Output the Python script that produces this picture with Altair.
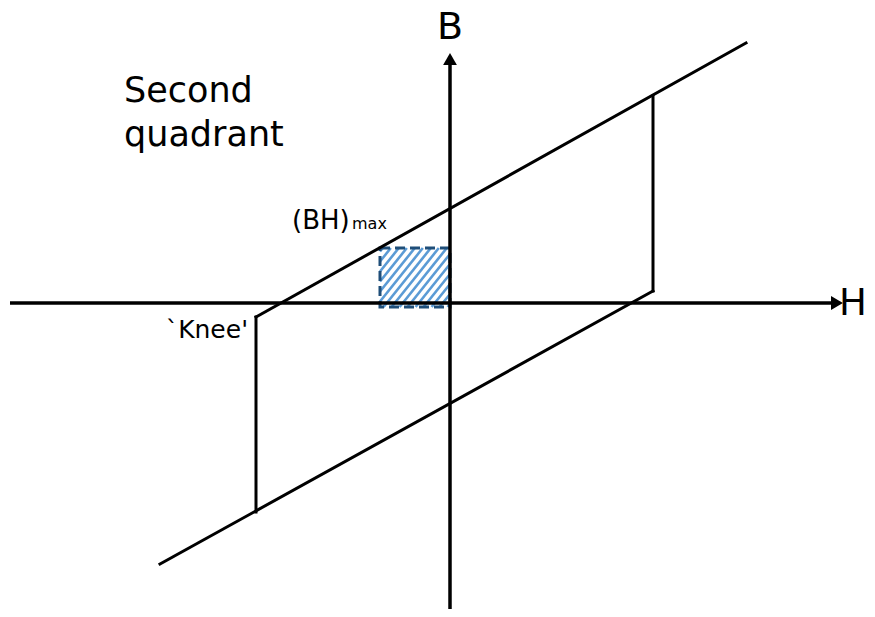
import altair as alt
import pandas as pd
import numpy as np

# Diagram coordinates (H, B) with origin at the intersection of axes
# segments: upper line, right vertical, lower line, left vertical
seg_h1 = [-194, 203, -290, -194]
seg_b1 = [-14, 207, -261, -14]
seg_h2 = [296, 203, 203, -194]
seg_b2 = [260, 12, 12, -209]

# axes
h_axis = [-440, 385]
b_axis = [-310, 245]
h_tip = 392
b_tip = 250

# (BH)max rectangle
rect_h = [-70, 0]
rect_b = [-4, 55]

# labels (alphabetic baseline)
label_x = [0, 403, -326, -326, -158, -202, -98]
label_y = [264, -12, 201, 157, 74, -35, 74]
label_t = ["B", "H", "Second", "quadrant", "(BH)", "`Knee'", "max"]
label_s = [38, 37, 35, 35, 26, 25, 16]
label_al = ["center", "center", "left", "left", "left", "right", "left"]

XD = [-442, 417]
YD = [-306, 295]
W, H = 859, 601

xs = alt.Scale(domain=XD, range=[0, W], nice=False, zero=False)
ys = alt.Scale(domain=YD, range=[H, 0], nice=False, zero=False)

def X(f="x", **k):
    return alt.X(f, type="quantitative", scale=xs, axis=None, **k)

def Y(f="y", **k):
    return alt.Y(f, type="quantitative", scale=ys, axis=None, **k)

loop_df = pd.DataFrame({"x": seg_h1, "y": seg_b1, "x2": seg_h2, "y2": seg_b2})
loop = alt.Chart(loop_df).mark_rule(color="black", strokeWidth=3, strokeCap="square").encode(
    x=X(), y=Y(), x2="x2", y2="y2")

axes_df = pd.DataFrame({"x": [h_axis[0], 0], "y": [0, b_axis[0]],
                        "x2": [h_axis[1], 0], "y2": [0, b_axis[1]]})
axes = alt.Chart(axes_df).mark_rule(color="black", strokeWidth=3.5).encode(
    x=X(), y=Y(), x2="x2", y2="y2")

heads = pd.DataFrame({"x": [h_tip - 7, 0], "y": [0, b_tip - 8], "a": [90, 0]})
arrows = alt.Chart(heads).mark_point(shape="triangle", filled=True, color="black",
                                     size=190, opacity=1).encode(
    x=X(), y=Y(), angle=alt.Angle("a:Q", scale=None))

# hatch lines within rectangle (slope up-right)
hx0, hx1 = rect_h
hy0, hy1 = rect_b
slope = 1.25
step = 10.0
segs = []
c = hy0 - slope * hx1 + 3
while c < hy1 - slope * hx0:
    pts = []
    for xv in (hx0, hx1):
        yv = slope * xv + c
        if hy0 <= yv <= hy1:
            pts.append((xv, yv))
    for yv in (hy0, hy1):
        xv = (yv - c) / slope
        if hx0 <= xv <= hx1:
            pts.append((xv, yv))
    pts = sorted(set(pts))
    if len(pts) >= 2:
        segs.append((pts[0][0], pts[0][1], pts[-1][0], pts[-1][1]))
    c += step
hatch_df = pd.DataFrame(segs, columns=["x", "y", "x2", "y2"])
hatch = alt.Chart(hatch_df).mark_rule(color="#5b9bd5", strokeWidth=2.6).encode(
    x=X(), y=Y(), x2="x2", y2="y2")

rect_df = pd.DataFrame({"x": [rect_h[0]], "x2": [rect_h[1]], "y": [rect_b[0]], "y2": [rect_b[1]]})
rect = alt.Chart(rect_df).mark_rect(fill=None, stroke="#1f4e79", strokeWidth=3,
                                    strokeDash=[10, 5]).encode(
    x=X(), x2="x2", y=Y(), y2="y2")

FONT = "DejaVu Sans"
texts = []
for i in range(len(label_t)):
    d = pd.DataFrame({"x": [label_x[i]], "y": [label_y[i]], "t": [label_t[i]]})
    texts.append(alt.Chart(d).mark_text(
        font=FONT, fontSize=label_s[i], align=label_al[i], baseline="alphabetic",
        color="black").encode(x=X(), y=Y(), text="t:N"))

chart = alt.layer(hatch, rect, loop, axes, arrows, *texts).properties(
    width=W, height=H, padding=0, autosize=alt.AutoSizeParams(type="none")
).configure_view(stroke=None)

chart.save("out.html", embed_options={"renderer": "svg", "actions": False})
